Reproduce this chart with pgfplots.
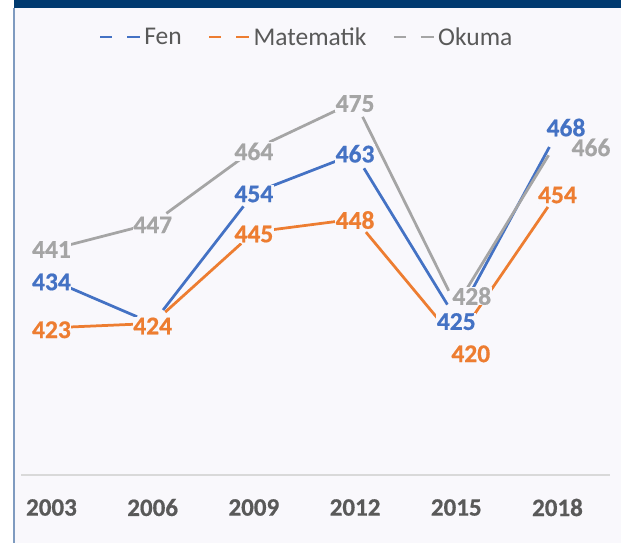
\documentclass[border=0pt]{standalone}
\usepackage{pgfplots}
\usepackage{pgfplotstable}
\pgfplotsset{compat=1.18}
\usepackage{fontspec}
\setmainfont{Carlito}[BoldFont={Carlito Bold}, BoldFeatures={FakeBold=0.6}]
\definecolor{cFen}{HTML}{4472C4}
\definecolor{cMat}{HTML}{ED7D31}
\definecolor{cOku}{HTML}{A5A5A5}
\definecolor{bg}{HTML}{F9F8FC}
\definecolor{navy}{HTML}{003A70}
\definecolor{edge}{HTML}{7F9BC0}
\definecolor{txt}{HTML}{595959}
\definecolor{axisgray}{HTML}{D9D9D9}

\pgfplotsset{
  dashleg/.style={legend image code/.code={\draw[##1, dash pattern=on 12pt off 15pt on 14pt] (0pt,0pt) -- (40pt,0pt);}},
  seg/.style={line width=2.75pt,
    quiver={u=\thisrow{u}, v=\thisrow{v}, every arrow/.append style={-, shorten >=17pt, shorten <=17pt}},
    skip coords between index={5}{6}, dashleg},
  lab/.style={forget plot, draw=none, mark=none, point meta=\thisrow{y},
    visualization depends on={\thisrow{dx} \as \dx},
    visualization depends on={\thisrow{dy} \as \dy},
    nodes near coords={\textbf{\pgfmathprintnumber{\pgfplotspointmeta}}},
    nodes near coords align=center,
    every node near coord/.append style={anchor=center, inner sep=0.5pt, text=#1, fill=bg,
      font=\fontsize{25.5}{30}\selectfont, xshift=\dx pt, yshift=\dy pt}},
}

% x = index (2003..2018), y = score, u/v = step to next year, dx/dy = label shift (pt)
\pgfplotstableread{
x y u v dx dy
0 434 1 -10 0 -2
1 424 1 30 0 -2.5
2 454 1 9 0 -1
3 463 1 -38 0 0
4 425 1 43 0 -2.5
5 468 0 0 8.5 4.5
}\fen
\pgfplotstableread{
x y u v dx dy
0 423 1 1 0 -2
1 424 1 21 0 -2.5
2 445 1 3 0 -2
3 448 1 -28 0 -1
4 420 1 34 14.5 -13
5 454 0 0 0 -2
}\mat
\pgfplotstableread{
x y u v dx dy
0 441 1 6 0 0
1 447 1 17 0 -1.5
2 464 1 11 0 -2
3 475 1 -47 0 -2
4 428 1 38 15.5 10
5 466 0 0 33.5 -6.75
}\oku

\begin{document}
\begin{tikzpicture}[x=1pt,y=1pt]
\path[use as bounding box] (0,0) rectangle (621,543);
\fill[white] (0,0) rectangle (621,543);
\fill[bg] (14,0) rectangle (621,535);
\fill[navy] (14,535) rectangle (621,543);
\draw[edge, line width=2pt] (14,0) -- (14,535);
\begin{axis}[
  at={(21pt,68pt)}, anchor=south west,
  width=589pt, height=416.9pt, scale only axis,
  xmin=-0.301, xmax=5.519, ymin=389.16, ymax=485,
  clip=false,
  axis x line=bottom, axis y line=none,
  x axis line style={-, draw=axisgray, line width=1.3pt},
  ytick=\empty,
  xtick={0,1,2,3,4,5},
  xticklabels={\textbf{2003},\textbf{2006},\textbf{2009},\textbf{2012},\textbf{2015},\textbf{2018}},
  major tick length=0pt,
  xticklabel style={anchor=center, yshift=-32.5pt, text=txt, font=\fontsize{25}{30}\selectfont},
  /pgf/number format/assume math mode=true,
  legend columns=3,
  legend style={at={(0.4847,1.0506)}, anchor=center, draw=none, fill=none,
    inner sep=0pt, font=\fontsize{25.5}{30}\selectfont, text=txt,
    /tikz/every odd column/.append style={column sep=1pt},
    /tikz/every even column/.append style={column sep=24pt}},
  legend cell align=left,
]
\addplot[cFen, seg] table[x=x,y=y] {\fen};
\addplot[cMat, seg] table[x=x,y=y] {\mat};
\addplot[cOku, seg] table[x=x,y=y] {\oku};
\legend{Fen,Matematik,Okuma}

\addplot[lab=cFen] table[x=x,y=y] {\fen};
\addplot[lab=cMat] table[x=x,y=y] {\mat};
\addplot[lab=cOku] table[x=x,y=y] {\oku};
\end{axis}
\end{tikzpicture}
\end{document}
